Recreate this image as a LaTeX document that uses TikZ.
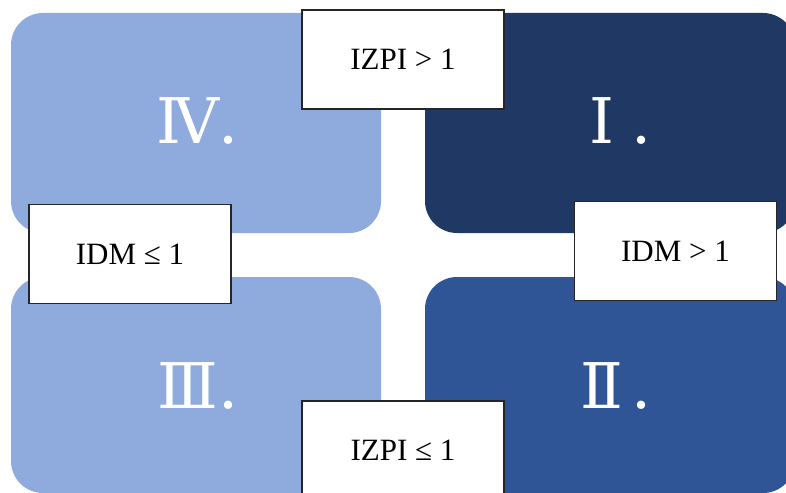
\documentclass[tikz,border=0pt]{standalone}
\usepackage{fontspec}
\setmainfont{Liberation Serif}
\newfontfamily\numfont{DejaVu Serif}
\definecolor{quadlight}{HTML}{8FAADC}
\definecolor{quaddark}{HTML}{203864}
\definecolor{quadmid}{HTML}{2F5597}
\begin{document}
\begin{tikzpicture}[x=1pt,y=-1pt,
    quad/.style={rounded corners=32pt},
    lbl/.style={draw=black!85,line width=1.2pt,fill=white,inner sep=0pt,
      minimum width=202pt,minimum height=99pt,font=\fontsize{31}{36}\selectfont},
    num/.style={text=white,inner sep=0pt,anchor=base,font=\numfont\fontsize{63}{70}\selectfont}]
      \useasboundingbox (0,0) rectangle (786,492);
      \clip (0,0) rectangle (786,492);
      % four quadrants
      \fill[quad,quadlight] (11,13) rectangle (381,233);
      \fill[quad,quaddark] (425,13) rectangle (795,233);
      \fill[quad,quadlight] (11,277) rectangle (381,493);
      \fill[quad,quadmid] (425,277) rectangle (795,493);
      \draw
        (198,143) node[num] (q4){\makebox[60pt]{Ⅳ}.}
        (612,143) node[num] (q1){\makebox[60pt]{Ⅰ}.}
        (198,408) node[num] (q3){\makebox[60pt]{Ⅲ}.}
        (612,408) node[num] (q2){\makebox[60pt]{Ⅱ}.};
      \begin{scope}[every node/.style={lbl}]
        \node (izpihi) at (403,59.5) {IZPI > 1};
        \node (idmlo) at (130,254) {IDM ≤ 1};
        \node (idmhi) at (675.5,251) {IDM > 1};
        \node (izpilo) at (403,450.5) {IZPI ≤ 1};
      \end{scope}
    \end{tikzpicture}
\end{document}
